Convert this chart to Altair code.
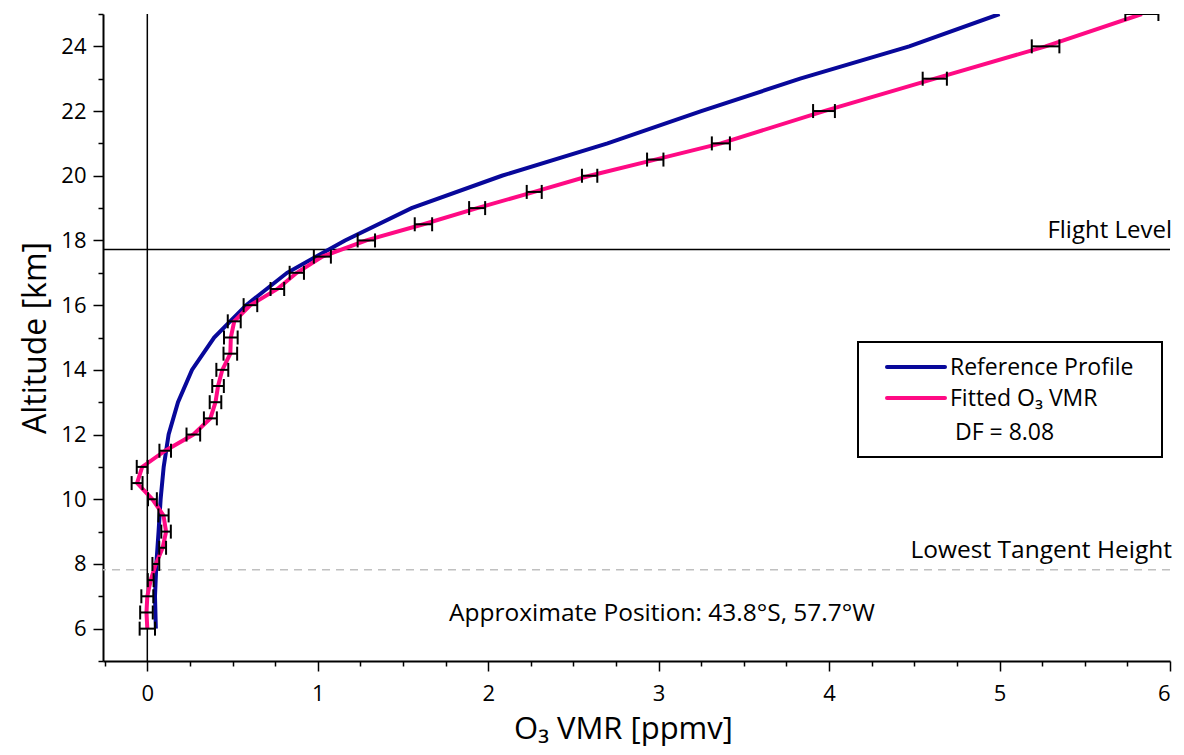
import altair as alt
import pandas as pd
import numpy as np

# ---- data ----
fit_alt = [6, 6.5, 7, 7.5, 8, 8.5, 9, 9.5, 10, 10.5, 11, 11.5, 12, 12.5, 13, 13.5,
           14, 14.5, 15, 15.5, 16, 16.5, 17, 17.5, 18, 18.5, 19, 19.5, 20, 20.5,
           21, 22, 23, 24, 25]
fit_vmr = [0.0, -0.005, 0.0, 0.02, 0.05, 0.09, 0.11, 0.095, 0.03, -0.06, -0.03, 0.105,
           0.27, 0.37, 0.40, 0.415, 0.44, 0.487, 0.49, 0.51, 0.605, 0.763, 0.877, 1.027,
           1.285, 1.62, 1.935, 2.27, 2.595, 2.98, 3.365, 3.97, 4.62, 5.27, 5.835]
fit_err = [0.045, 0.037, 0.035, 0.017, 0.02, 0.02, 0.028, 0.03, 0.026, 0.032, 0.032, 0.034,
           0.04, 0.038, 0.034, 0.034, 0.035, 0.04, 0.04, 0.038, 0.04, 0.04, 0.042, 0.05,
           0.051, 0.051, 0.047, 0.044, 0.045, 0.048, 0.053, 0.064, 0.071, 0.081, 0.097]

ref_alt = [6, 7, 8, 9, 10, 11, 12, 13, 14, 15, 16, 17, 18, 19, 20, 21, 22, 23, 24, 25]
ref_vmr = [0.05, 0.045, 0.053, 0.066, 0.078, 0.096, 0.125, 0.18, 0.262, 0.392, 0.58,
           0.82, 1.16, 1.55, 2.08, 2.70, 3.25, 3.83, 4.47, 5.0]

flight_level = [17.72]
lowest_tangent = [7.82]

x_ticks = [round(v, 2) for v in np.arange(-0.25, 6.01, 0.25)]
y_ticks = list(range(5, 26))

FONT = "Open Sans"
BLUE = "#08089a"
PINK = "#ff0a84"

fit_df = pd.DataFrame({"alt": fit_alt, "vmr": fit_vmr, "err": fit_err})
fit_df["lo"] = fit_df["vmr"] - fit_df["err"]
fit_df["hi"] = fit_df["vmr"] + fit_df["err"]
ref_df = pd.DataFrame({"alt": ref_alt, "vmr": ref_vmr})

xscale = alt.Scale(domain=[-0.26, 6], nice=False, zero=False)
yscale = alt.Scale(domain=[5, 25], nice=False, zero=False)

xaxis = alt.Axis(
    values=x_ticks,
    title="O₃ VMR [ppmv]",
    labelExpr="(datum.value % 1 === 0 && datum.value >= 0) ? format(datum.value, 'd') : ''",
    tickSize={"condition": {"test": "datum.value % 1 === 0", "value": 10}, "value": 5},
    grid=False, domainColor="black", domainWidth=2, tickColor="black", tickWidth=1.5,
    labelFont=FONT, labelFontSize=22, labelColor="black", labelPadding=12,
    titleFont=FONT, titleFontSize=31, titleFontWeight="normal", titleColor="black",
    titlePadding=10, titleX=520,
)
yaxis = alt.Axis(
    values=y_ticks,
    title="Altitude [km]",
    labelExpr="datum.value % 2 === 0 ? format(datum.value, 'd') : ''",
    tickSize={"condition": {"test": "datum.value % 2 === 0", "value": 10}, "value": 5},
    grid=False, domainColor="black", domainWidth=2, tickColor="black", tickWidth=1.5,
    labelFont=FONT, labelFontSize=22, labelColor="black", labelPadding=7,
    titleFont=FONT, titleFontSize=32, titleFontWeight="normal", titleColor="black",
    titlePadding=8,
)

lt_line = alt.Chart(pd.DataFrame({"y": lowest_tangent})).mark_rule(
    color="#c0c0c0", strokeWidth=1.5, strokeDash=[8, 6]).encode(
    y=alt.Y("y:Q", scale=yscale, axis=yaxis)
)
zero_line = alt.Chart(pd.DataFrame({"x": [0]})).mark_rule(color="black", strokeWidth=1.5).encode(
    x=alt.X("x:Q", scale=xscale, axis=xaxis)
)
fl_line = alt.Chart(pd.DataFrame({"y": flight_level})).mark_rule(color="black", strokeWidth=1.5).encode(
    y=alt.Y("y:Q", scale=yscale, axis=yaxis)
)

ref_line = alt.Chart(ref_df).mark_line(color=BLUE, strokeWidth=4, clip=True).encode(
    x=alt.X("vmr:Q", scale=xscale, axis=xaxis), y=alt.Y("alt:Q", scale=yscale, axis=yaxis),
    order="alt:Q"
)
fit_line = alt.Chart(fit_df).mark_line(color=PINK, strokeWidth=4, clip=True).encode(
    x=alt.X("vmr:Q", scale=xscale, axis=xaxis), y=alt.Y("alt:Q", scale=yscale, axis=yaxis),
    order="alt:Q"
)
err_bar = alt.Chart(fit_df).mark_rule(color="black", strokeWidth=2, clip=True).encode(
    x=alt.X("lo:Q", scale=xscale, axis=xaxis), x2="hi:Q",
    y=alt.Y("alt:Q", scale=yscale, axis=yaxis)
)
cap_shape = "M0,-1L0,1"
cap_lo = alt.Chart(fit_df).mark_point(shape=cap_shape, size=196, color="black", strokeWidth=2,
                                      filled=False, opacity=1, clip=True).encode(
    x=alt.X("lo:Q", scale=xscale, axis=xaxis), y=alt.Y("alt:Q", scale=yscale, axis=yaxis)
)
cap_hi = alt.Chart(fit_df).mark_point(shape=cap_shape, size=196, color="black", strokeWidth=2,
                                      filled=False, opacity=1, clip=True).encode(
    x=alt.X("hi:Q", scale=xscale, axis=xaxis), y=alt.Y("alt:Q", scale=yscale, axis=yaxis)
)

one = pd.DataFrame({"k": [0]})


def text(t, x, y, align="left", size=24, baseline="alphabetic"):
    return alt.Chart(one).mark_text(text=t, font=FONT, fontSize=size, color="black",
                                    align=align, baseline=baseline).encode(
        x=alt.value(x), y=alt.value(y))


ann = [
    text("Flight Level", 1069, 224, align="right"),
    text("Lowest Tangent Height", 1069, 544, align="right", size=24.5),
    text("Approximate Position: 43.8°S, 57.7°W", 559, 607, align="center", size=24.5),
]

legend_box = alt.Chart(one).mark_rect(fill="white", stroke="black", strokeWidth=2).encode(
    x=alt.value(755), x2=alt.value(1059), y=alt.value(328), y2=alt.value(443)
)
leg_blue = alt.Chart(one).mark_rule(color=BLUE, strokeWidth=4, strokeCap="round").encode(
    x=alt.value(784), x2=alt.value(842), y=alt.value(353)
)
leg_pink = alt.Chart(one).mark_rule(color=PINK, strokeWidth=4, strokeCap="round").encode(
    x=alt.value(784), x2=alt.value(842), y=alt.value(384)
)
leg_texts = [
    text("Reference Profile", 847, 354, size=23, baseline="middle"),
    text("Fitted O₃ VMR", 847, 385, size=23, baseline="middle"),
    text("DF = 8.08", 852, 419, size=23, baseline="middle"),
]

chart = alt.layer(
    lt_line, fl_line, zero_line, ref_line, fit_line, err_bar, cap_lo, cap_hi,
    *ann, legend_box, leg_blue, leg_pink, *leg_texts
).properties(
    width=1067, height=647,
    autosize=alt.AutoSizeParams(type="none"),
    padding={"left": 95, "top": 6, "right": 6, "bottom": 86},
).configure_view(stroke=None)

chart.save("out.html", embed_options={"renderer": "svg", "actions": False})
